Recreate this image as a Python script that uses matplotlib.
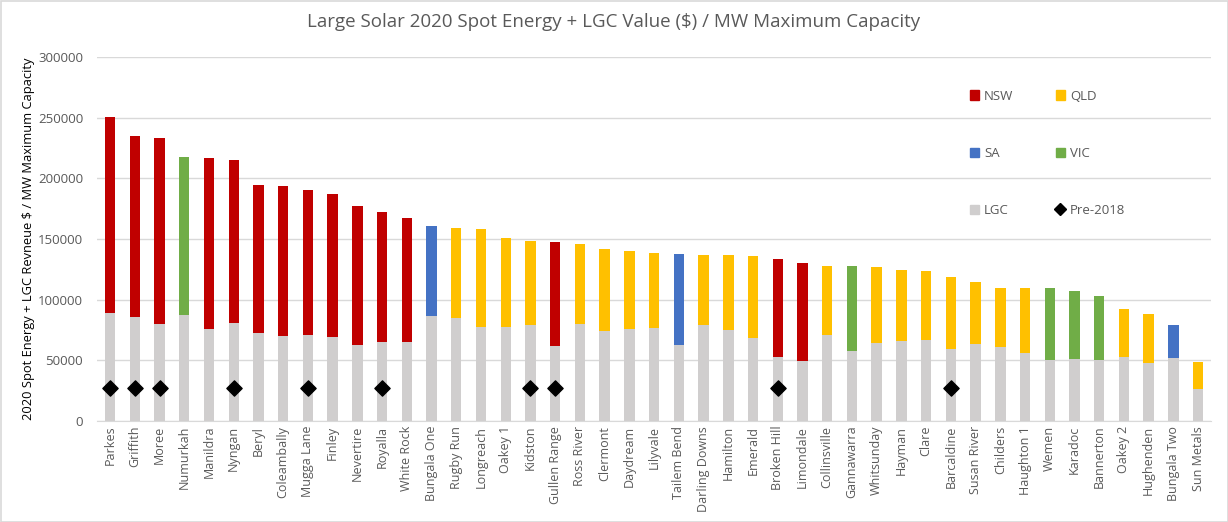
import matplotlib
matplotlib.use("Agg")
import matplotlib.pyplot as plt
from matplotlib.patches import Rectangle
from matplotlib.lines import Line2D
from matplotlib.patches import Patch
import numpy as np

plt.rcParams['font.family'] = ['Open Sans', 'DejaVu Sans']

sites = ["Parkes", "Griffith", "Moree", "Numurkah", "Manildra", "Nyngan", "Beryl",
         "Coleambally", "Mugga Lane", "Finley", "Nevertire", "Royalla", "White Rock",
         "Bungala One", "Rugby Run", "Longreach", "Oakey 1", "Kidston", "Gullen Range",
         "Ross River", "Clermont", "Daydream", "Lilyvale", "Tailem Bend", "Darling Downs",
         "Hamilton", "Emerald", "Broken Hill", "Limondale", "Collinsville", "Gannawarra",
         "Whitsunday", "Hayman", "Clare", "Barcaldine", "Susan River", "Childers",
         "Haughton 1", "Wemen", "Karadoc", "Bannerton", "Oakey 2", "Hughenden",
         "Bungala Two", "Sun Metals"]
states = ["NSW", "NSW", "NSW", "VIC", "NSW", "NSW", "NSW",
          "NSW", "NSW", "NSW", "NSW", "NSW", "NSW",
          "SA", "QLD", "QLD", "QLD", "QLD", "NSW",
          "QLD", "QLD", "QLD", "QLD", "SA", "QLD",
          "QLD", "QLD", "NSW", "NSW", "QLD", "VIC",
          "QLD", "QLD", "QLD", "QLD", "QLD", "QLD",
          "QLD", "VIC", "VIC", "VIC", "QLD", "QLD",
          "SA", "QLD"]
total_value = [250500, 235100, 233500, 217500, 216700, 214800, 194500,
               193400, 190600, 187300, 176900, 172500, 167000,
               160900, 159300, 158000, 151000, 148100, 147800,
               146200, 142000, 139800, 138700, 137400, 137100,
               136600, 136000, 133300, 130400, 127500, 127500,
               126600, 124400, 123900, 118700, 114300, 109900,
               109600, 109300, 106900, 103300, 92300, 88200,
               79100, 48900]
lgc_value = [89200, 85700, 79700, 87600, 75800, 81000, 72800,
             70000, 70900, 69200, 62900, 65400, 65100,
             86800, 85100, 77500, 77500, 79100, 62000,
             80000, 74400, 75500, 76600, 62500, 78800,
             75200, 68600, 52400, 49200, 70600, 57400,
             64300, 65900, 67000, 59300, 63400, 61000,
             56300, 50600, 50800, 50300, 53000, 48000,
             51600, 26600]
pre2018_sites = ["Parkes", "Griffith", "Moree", "Nyngan", "Mugga Lane", "Royalla",
                 "Kidston", "Gullen Range", "Broken Hill", "Barcaldine"]
pre2018_level = 27000

state_colors = {"NSW": "#C00000", "QLD": "#FFC000", "SA": "#4472C4", "VIC": "#70AD47"}
lgc_color = "#D0CECE"
text_gray = "#595959"

fig = plt.figure(figsize=(12.28, 5.22), dpi=100)
ax = fig.add_axes([97/1228, 1 - 421/522, (1211 - 97)/1228, (421 - 57)/522])

x = np.arange(len(sites))
spot = [t - l for t, l in zip(total_value, lgc_value)]
cols = [state_colors[s] for s in states]
w = 0.42
ax.bar(x, lgc_value, width=w, color=lgc_color, zorder=2)
ax.bar(x, spot, width=w, bottom=lgc_value, color=cols, zorder=2)

px = [sites.index(s) for s in pre2018_sites]
ax.scatter(px, [pre2018_level] * len(px), marker="D", s=60, color="black", zorder=3)

ax.set_xlim(-0.53, 44.52)
ax.set_ylim(0, 300000)
ax.set_yticks(np.arange(0, 300001, 50000))
ax.yaxis.grid(True, color="#D9D9D9", lw=1)
ax.set_axisbelow(True)
for sp in ["top", "right", "left"]:
    ax.spines[sp].set_visible(False)
ax.spines["bottom"].set_color("#D9D9D9")
ax.tick_params(axis="both", length=0, colors=text_gray, labelsize=9.5)
ax.tick_params(axis="y", pad=10)
ax.set_xticks(x)
ax.set_xticklabels(sites, rotation=90, fontsize=9)
ax.set_ylabel("2020 Spot Energy + LGC Revneue $ / MW Maximum Capacity",
              fontsize=9.3, color="black", labelpad=2)

fig.suptitle("Large Solar 2020 Spot Energy + LGC Value ($) / MW Maximum Capacity",
             x=0.5, y=0.975, fontsize=13.5, color=text_gray)

handles = [Patch(color=state_colors["NSW"]), Patch(color=state_colors["SA"]),
           Patch(color=lgc_color),
           Patch(color=state_colors["QLD"]), Patch(color=state_colors["VIC"]),
           Line2D([], [], marker="D", color="black", ls="none", markersize=6)]
labels = ["NSW", "SA", "LGC", "QLD", "VIC", "Pre-2018"]
leg = ax.legend(handles, labels, ncol=2, loc="upper left",
                bbox_to_anchor=((963 - 97) / (1211 - 97), 1 - (83 - 57) / (421 - 57)),
                frameon=False, fontsize=9.5, labelspacing=3.35, handlelength=0.7,
                handleheight=0.7, handletextpad=0.4, columnspacing=3.2, borderpad=0)
for t in leg.get_texts():
    t.set_color(text_gray)

fig.add_artist(Rectangle((0.5 / 1228, 0.5 / 522), 1 - 1 / 1228, 1 - 1 / 522,
                         transform=fig.transFigure, fill=False, ec="#D9D9D9", lw=1.2))

fig.savefig("out.png", dpi=100)
